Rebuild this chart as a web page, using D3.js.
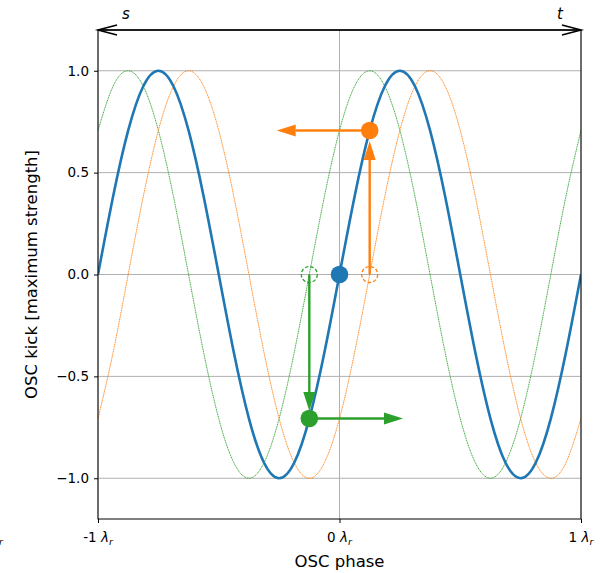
<!DOCTYPE html>
<html>
<head>
<meta charset="utf-8">
<script src="https://cdn.jsdelivr.net/npm/d3@7"></script>
<style>
  body { margin: 0; background: #fff; }
  text { font-family: "DejaVu Sans", sans-serif; }
</style>
</head>
<body>
<svg id="osc" width="601" height="573"></svg>
<script>
// curve samples, x = -1 .. 1 in steps of 1/16 lambda_r
var phase = d3.range(33).map(function (i) { return -1 + i / 16; });
var kickCurrent = [0, 0.383, 0.707, 0.924, 1, 0.924, 0.707, 0.383, 0, -0.383, -0.707, -0.924, -1, -0.924, -0.707, -0.383,
                   0, 0.383, 0.707, 0.924, 1, 0.924, 0.707, 0.383, 0, -0.383, -0.707, -0.924, -1, -0.924, -0.707, -0.383, 0];
var kickLate = [-0.707, -0.383, 0, 0.383, 0.707, 0.924, 1, 0.924, 0.707, 0.383, 0, -0.383, -0.707, -0.924, -1, -0.924,
                -0.707, -0.383, 0, 0.383, 0.707, 0.924, 1, 0.924, 0.707, 0.383, 0, -0.383, -0.707, -0.924, -1, -0.924, -0.707];
var kickEarly = [0.707, 0.924, 1, 0.924, 0.707, 0.383, 0, -0.383, -0.707, -0.924, -1, -0.924, -0.707, -0.383, 0, 0.383,
                 0.707, 0.924, 1, 0.924, 0.707, 0.383, 0, -0.383, -0.707, -0.924, -1, -0.924, -0.707, -0.383, 0, 0.383, 0.707];

// markers: [x, y, colour, filled]
var markers = [
    [0, 0, "#1f77b4", true],
    [0.125, 0, "#ff7f0e", false],
    [-0.125, 0, "#2ca02c", false],
    [0.125, 0.707, "#ff7f0e", true],
    [-0.125, -0.707, "#2ca02c", true]
];
// arrows: [x0, y0, x1, y1, colour]
var arrows = [
    [0.125, 0, 0.125, 0.655, "#ff7f0e"],
    [0.125, 0.707, -0.26, 0.707, "#ff7f0e"],
    [-0.125, 0, -0.125, -0.67, "#2ca02c"],
    [-0.125, -0.707, 0.263, -0.707, "#2ca02c"]
];

var yTicks = [-1, -0.5, 0, 0.5, 1];
var xTicks = [-1, 0, 1];
var xTickLabels = ["-1", "0", "1"];

var svg = d3.select("#osc"),
    margin = { top: 30, right: 20, bottom: 54, left: 98 },
    width = 483,
    height = 489;

var x = d3.scaleLinear().domain([-1, 1]).range([margin.left, margin.left + width]),
    y = d3.scaleLinear().domain([-1.2, 1.2]).range([margin.top + height, margin.top]);

var defs = svg.append("defs");
defs.append("clipPath").attr("id", "clip")
    .append("rect")
    .attr("x", x(-1)).attr("y", y(1.2))
    .attr("width", width).attr("height", height);

// grid
svg.append("g").selectAll("line.hgrid").data(yTicks).enter().append("line")
    .attr("x1", x(-1)).attr("x2", x(1))
    .attr("y1", function (d) { return y(d); }).attr("y2", function (d) { return y(d); })
    .attr("stroke", "#b0b0b0").attr("stroke-width", 1);
svg.append("g").selectAll("line.vgrid").data(xTicks).enter().append("line")
    .attr("y1", y(-1.2)).attr("y2", y(1.2))
    .attr("x1", function (d) { return x(d); }).attr("x2", function (d) { return x(d); })
    .attr("stroke", "#b0b0b0").attr("stroke-width", 1);

var line = function (vals) {
    return d3.line()
        .x(function (d, i) { return x(phase[i]); })
        .y(function (d) { return y(d); })
        .curve(d3.curveNatural)(vals);
};

var plot = svg.append("g").attr("clip-path", "url(#clip)");
plot.append("path").attr("d", line(kickEarly))
    .attr("fill", "none").attr("stroke", "#2ca02c").attr("stroke-width", 0.9)
    .attr("stroke-dasharray", "1.2,0.6");
plot.append("path").attr("d", line(kickLate))
    .attr("fill", "none").attr("stroke", "#ff7f0e").attr("stroke-width", 0.9)
    .attr("stroke-dasharray", "1.2,0.6");
plot.append("path").attr("d", line(kickCurrent))
    .attr("fill", "none").attr("stroke", "#1f77b4").attr("stroke-width", 2.6);

// arrows
arrows.forEach(function (a) {
    var px0 = x(a[0]), py0 = y(a[1]), px1 = x(a[2]), py1 = y(a[3]);
    var dx = px1 - px0, dy = py1 - py0, len = Math.sqrt(dx * dx + dy * dy);
    var ux = dx / len, uy = dy / len, hl = 19, hw = 6;
    var bx = px1 - ux * hl, by = py1 - uy * hl;
    plot.append("line")
        .attr("x1", px0).attr("y1", py0).attr("x2", bx).attr("y2", by)
        .attr("stroke", a[4]).attr("stroke-width", 2.4);
    plot.append("path")
        .attr("d", "M" + px1 + "," + py1 +
            "L" + (bx - uy * hw) + "," + (by + ux * hw) +
            "L" + (bx + uy * hw) + "," + (by - ux * hw) + "Z")
        .attr("fill", a[4]);
});

// markers
plot.selectAll("circle.mk").data(markers).enter().append("circle")
    .attr("cx", function (d) { return x(d[0]); })
    .attr("cy", function (d) { return y(d[1]); })
    .attr("r", function (d) { return d[3] ? 8.8 : 8; })
    .attr("fill", function (d) { return d[3] ? d[2] : "none"; })
    .attr("stroke", function (d) { return d[2]; })
    .attr("stroke-width", function (d) { return d[3] ? 0 : 1.3; })
    .attr("stroke-dasharray", function (d) { return d[3] ? null : "3.5,2"; });

// spines
svg.append("rect")
    .attr("x", x(-1)).attr("y", y(1.2)).attr("width", width).attr("height", height)
    .attr("fill", "none").attr("stroke", "#000").attr("stroke-width", 1);

// y axis
var yAxis = svg.append("g").attr("transform", "translate(" + x(-1) + ",0)")
    .call(d3.axisLeft(y).tickValues(yTicks).tickSize(4).tickPadding(5)
        .tickFormat(function (d) { return d3.format(".1f")(d).replace("-", "\u2212"); }));
yAxis.select(".domain").remove();
yAxis.selectAll("text").attr("font-size", 13.5).attr("fill", "#000").attr("font-family", "DejaVu Sans");

// x axis
var xAxis = svg.append("g").attr("transform", "translate(0," + y(-1.2) + ")")
    .call(d3.axisBottom(x).tickValues(xTicks).tickSize(4).tickPadding(5).tickFormat(""));
xAxis.select(".domain").remove();
xTicks.forEach(function (t, i) {
    var tx = svg.append("text")
        .attr("x", x(t)).attr("y", y(-1.2) + 23)
        .attr("text-anchor", "middle").attr("font-size", 13.5);
    tx.append("tspan").text(xTickLabels[i] + " ");
    tx.append("tspan").attr("font-style", "italic").text("\u03bb");
    tx.append("tspan").attr("font-style", "italic").attr("font-size", 9.5).attr("dy", 3).text("r");
});
// label cut by the left edge, as in the original figure
var cut = svg.append("text").attr("x", 3).attr("y", y(-1.2) + 23)
    .attr("text-anchor", "end").attr("font-size", 13.5);
cut.append("tspan").attr("font-style", "italic").text("\u03bb");
cut.append("tspan").attr("font-style", "italic").attr("font-size", 9.5).attr("dy", 3).text("r");

// axis labels
svg.append("text").attr("x", x(0)).attr("y", 567)
    .attr("text-anchor", "middle").attr("font-size", 16.5).text("OSC phase");
svg.append("text")
    .attr("transform", "translate(37," + y(0) + ") rotate(-90)")
    .attr("text-anchor", "middle").attr("font-size", 16.5).text("OSC kick [maximum strength]");

// s <-> t annotation along the top
var ty = y(1.2);
svg.append("line").attr("x1", x(-1)).attr("x2", x(1)).attr("y1", ty).attr("y2", ty)
    .attr("stroke", "#000").attr("stroke-width", 1.6);
[[x(-1), 1], [x(1), -1]].forEach(function (e) {
    svg.append("path")
        .attr("d", "M" + (e[0] + e[1] * 19) + "," + (ty - 5) + "L" + e[0] + "," + ty +
            "L" + (e[0] + e[1] * 19) + "," + (ty + 5))
        .attr("fill", "none").attr("stroke", "#000").attr("stroke-width", 1.6);
});
svg.append("text").attr("x", 126).attr("y", 19).attr("text-anchor", "middle")
    .attr("font-size", 15).attr("font-style", "italic").text("s");
svg.append("text").attr("x", 560).attr("y", 19).attr("text-anchor", "middle")
    .attr("font-size", 15).attr("font-style", "italic").text("t");
</script>
</body>
</html>
